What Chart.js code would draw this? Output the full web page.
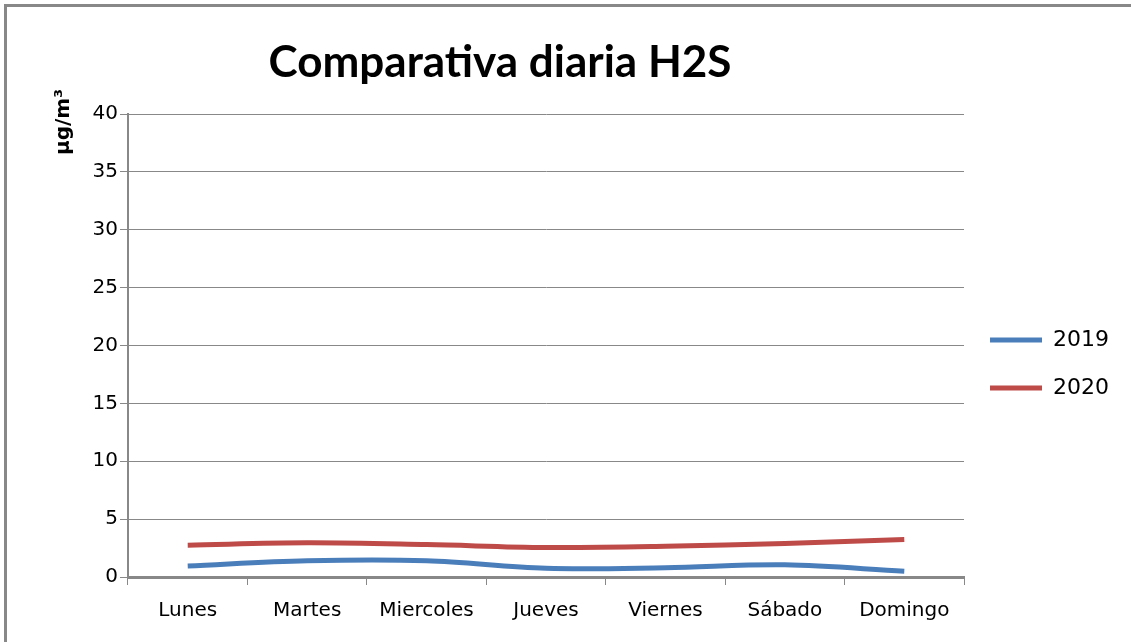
<!DOCTYPE html>
<html>
<head>
<meta charset="utf-8">
<script src="https://cdn.jsdelivr.net/npm/chart.js@4/dist/chart.umd.min.js"></script>
<style>
  html, body { margin: 0; padding: 0; background: #fff; }
  #wrap { width: 1131px; height: 642px; position: relative; }
</style>
</head>
<body>
<div id="wrap"><canvas id="h2sChart"></canvas></div>
<script>
const days = ['Lunes', 'Martes', 'Miercoles', 'Jueves', 'Viernes', 'Sábado', 'Domingo'];
const values2019 = [0.95, 1.4, 1.4, 0.75, 0.8, 1.05, 0.5];
const values2020 = [2.75, 2.95, 2.8, 2.55, 2.65, 2.9, 3.25];
const yTicks = [0, 5, 10, 15, 20, 25, 30, 35, 40];

// frame, title and y axis unit are drawn by hand like the original sheet
const decor = {
  id: 'decor',
  afterLayout(chart) {
    // legend sits a bit higher than the centred default
    chart.legend.top -= 14;
    chart.legend.bottom -= 14;
  },
  beforeDraw(chart) {
    const ctx = chart.ctx;
    ctx.save();
    ctx.fillStyle = '#fff';
    ctx.fillRect(0, 0, chart.width, chart.height);
    ctx.fillStyle = '#888';
    ctx.fillRect(4, 4, chart.width - 4, 3);
    ctx.fillRect(4, 4, 3, chart.height - 4);
    ctx.restore();
  },
  afterDraw(chart) {
    const ctx = chart.ctx;
    ctx.save();
    ctx.fillStyle = '#000';
    ctx.font = 'bold 44px Lato';
    ctx.textAlign = 'center';
    ctx.textBaseline = 'alphabetic';
    ctx.fillText('Comparativa diaria H2S', 500, 77);

    ctx.translate(69, 155);
    ctx.rotate(-Math.PI / 2);
    ctx.textAlign = 'left';
    ctx.font = 'bold 20px "DejaVu Sans"';
    ctx.fillText('µg/m³', 0, 0);
    ctx.restore();
  }
};

const ctx = document.getElementById('h2sChart').getContext('2d');
new Chart(ctx, {
  type: 'line',
  data: {
    labels: days,
    datasets: [
      {
        label: '2019',
        data: values2019,
        borderColor: '#4A7EBB',
        backgroundColor: '#4A7EBB',
        borderWidth: 5,
        pointRadius: 0,
        tension: 0.35
      },
      {
        label: '2020',
        data: values2020,
        borderColor: '#BE4B48',
        backgroundColor: '#BE4B48',
        borderWidth: 5,
        pointRadius: 0,
        tension: 0.35
      }
    ]
  },
  options: {
    responsive: true,
    maintainAspectRatio: false,
    animation: false,
    layout: { padding: { top: 114, left: 0, right: 12, bottom: 0 } },
    plugins: {
      title: { display: false },
      tooltip: { enabled: false },
      legend: {
        position: 'right',
        labels: {
          usePointStyle: true,
          pointStyle: 'line',
          pointStyleWidth: 52,
          padding: 26,
          color: '#000',
          font: { family: 'DejaVu Sans', size: 22 }
        }
      }
    },
    scales: {
      x: {
        offset: true,
        grid: { offset: true, drawOnChartArea: false, drawTicks: true, tickLength: 8, color: '#888', lineWidth: 1 },
        border: { color: '#888', width: 3 },
        ticks: { color: '#000', padding: 14, font: { family: 'DejaVu Sans', size: 20 } },
        afterFit(scale) { scale.height = 65; }
      },
      y: {
        min: 0,
        max: 40,
        afterBuildTicks(scale) { scale.ticks = yTicks.map(v => ({ value: v })); },
        grid: { color: '#888', lineWidth: 1, tickLength: 8 },
        border: { color: '#888', width: 2 },
        ticks: { color: '#000', padding: 2, font: { family: 'DejaVu Sans', size: 20 } },
        afterFit(scale) { scale.width = 128; }
      }
    }
  },
  plugins: [decor]
});
</script>
</body>
</html>
